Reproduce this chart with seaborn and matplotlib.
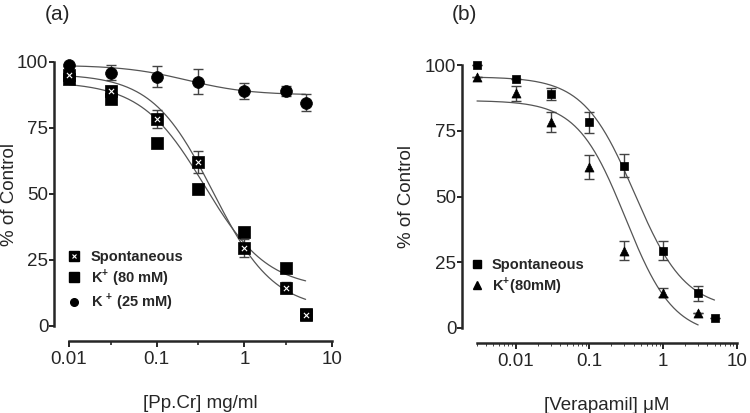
import numpy as np
import pandas as pd
import matplotlib
matplotlib.use("Agg")
import matplotlib.pyplot as plt
from matplotlib.lines import Line2D
from matplotlib.legend_handler import HandlerTuple
import seaborn as sns

# ---- panel (a) data: [Pp.Cr] mg/ml ----
conc_a = [0.01, 0.03, 0.1, 0.3, 1, 3, 5]
spont_a = [95, 89, 78.5, 62, 29.5, 14.5, 4]
spont_a_err = [1, 2, 3.5, 4.2, 3.5, 2, 0.5]
k80_a = [93.5, 86, 69.5, 52, 35.5, 22, 4.5]
k80_a_err = [1, 1, 0.5, 1.8, 1, 1, 0.5]
k25_a = [99, 96, 94.5, 92.5, 89, 89, 84.5]
k25_a_err = [0.5, 3, 4, 4.7, 3, 2, 3.2]

# ---- panel (b) data: [Verapamil] uM ----
conc_b_spont = [0.003, 0.01, 0.03, 0.1, 0.3, 1, 3, 5]
spont_b = [100, 94.7, 89, 78.3, 61.7, 29.4, 13.2, 3.7]
spont_b_err = [0, 0, 2.4, 4, 4.3, 3.5, 2.8, 0]
conc_b_k80 = [0.003, 0.01, 0.03, 0.1, 0.3, 1, 3]
k80_b = [95.3, 89.2, 78.2, 61.3, 29.4, 13.4, 5.6]
k80_b_err = [0, 2.8, 3.8, 4.5, 3.5, 1.8, 0]

# fitted sigmoid parameters (top, bottom, EC50, hill) and fit x-range
fit_spont_a = (95.5, 6, 0.44, 1.25)
fit_k80_a = (92.5, 14, 0.35, 1.2)
fit_k25_a = (98.8, 87.5, 0.22, 1.2)
fit_range_a = (0.01, 5)
fit_spont_b = (95.5, 7, 0.41, 1.26)
fit_k80_b = (86.5, -3, 0.31, 1.33)
fit_range_spont_b = (0.003, 5)
fit_range_k80_b = (0.003, 3)


def hill(x, top, bottom, ec50, n):
    return bottom + (top - bottom) / (1 + (x / ec50) ** n)


def fit_curve(params, xr):
    x = np.geomspace(xr[0], xr[1], 200)
    return pd.DataFrame({"x": x, "y": hill(x, *params)})


sns.set_style("ticks")
plt.rcParams["font.family"] = ["Liberation Sans", "DejaVu Sans"]
plt.rcParams["mathtext.fontset"] = "custom"
plt.rcParams["mathtext.rm"] = "Liberation Sans"
plt.rcParams["mathtext.bf"] = "Liberation Sans:bold"

W, H = 750, 413
fig = plt.figure(figsize=(7.5, 4.13), dpi=100)
ax_a = fig.add_axes([69 / W, 87 / H, 263 / W, 264 / H])
ax_b = fig.add_axes([477 / W, 85 / H, 259.7 / W, 263 / H])

curve_col = "#555555"
err_col = "#444444"


def draw_series(ax, x, y, err, marker, ms, fill_x=False):
    ax.errorbar(x, y, yerr=err, fmt="none", ecolor=err_col, elinewidth=1,
                capsize=3.6, capthick=1, clip_on=False, zorder=3)
    df = pd.DataFrame({"x": x, "y": y})
    sns.scatterplot(data=df, x="x", y="y", marker=marker, s=ms ** 2,
                    color="black", edgecolor="black", linewidth=0.5,
                    ax=ax, clip_on=False, zorder=4, legend=False)
    if fill_x:
        sns.scatterplot(data=df, x="x", y="y", marker="x", s=(ms * 0.45) ** 2,
                        color="white", linewidth=0.8, ax=ax, clip_on=False,
                        zorder=5, legend=False)


def style_axes(ax, xlo, label_x):
    ax.set_xscale("log")
    ax.set_xlim(xlo, 10)
    ax.set_ylim(0, 100)
    ax.set_yticks([0, 25, 50, 75, 100])
    ax.set_yticklabels(["0", "25", "50", "75", "100"])
    ax.set_xticks([0.01, 0.1, 1, 10])
    ax.set_xticklabels(["0.01", "0.1", "1", "10"])
    ax.spines["top"].set_visible(False)
    ax.spines["right"].set_visible(False)
    ax.spines["left"].set_position(("outward", 10.5))
    ax.spines["bottom"].set_position(("outward", 10.8))
    for s in ("left", "bottom"):
        ax.spines[s].set_linewidth(1.8)
    ax.tick_params(axis="y", which="major", length=3.6, width=1.4,
                   labelsize=13.5, direction="out", pad=0.8)
    ax.tick_params(axis="x", which="major", length=4, width=1.4,
                   labelsize=13.5, direction="out", pad=3)
    ax.set_ylabel("% of Control", fontsize=13.5)
    pos = ax.get_position()
    ax.yaxis.set_label_coords(label_x / W, pos.y0 + pos.height / 2,
                              transform=fig.transFigure)


# ---- panel (a) ----
for params in (fit_spont_a, fit_k80_a, fit_k25_a):
    sns.lineplot(data=fit_curve(params, fit_range_a), x="x", y="y",
                 color=curve_col, linewidth=0.9, ax=ax_a, clip_on=False)
draw_series(ax_a, conc_a, k25_a, k25_a_err, "o", 8.5)
draw_series(ax_a, conc_a, k80_a, k80_a_err, "s", 8)
draw_series(ax_a, conc_a, spont_a, spont_a_err, "s", 8.3, fill_x=True)
style_axes(ax_a, 0.01, 18)
ax_a.set_xticks([0.03, 0.3, 3], minor=True)
ax_a.set_xticklabels([], minor=True)
ax_a.tick_params(axis="x", which="minor", length=3, width=1.2)
ax_a.set_xlabel("[Pp.Cr] mg/ml", fontsize=13.5, labelpad=20)

sq = Line2D([], [], marker="s", color="black", ls="none", ms=7.5)
sq_x = Line2D([], [], marker="x", color="white", ls="none", ms=3.3, mew=0.8)
sq2 = Line2D([], [], marker="s", color="black", ls="none", ms=7.5)
dot = Line2D([], [], marker="o", color="black", ls="none", ms=5.5)
ax_a.legend([(sq, sq_x), sq2, dot],
            ["Spontaneous", "K$^{\\mathbf{+}}$ (80 mM)", "K $^{\\mathbf{+}}$ (25 mM)"],
            handler_map={tuple: HandlerTuple(ndivide=1)},
            frameon=False, loc="upper left",
            bbox_to_anchor=(65.5 / W, 1 - 250 / H),
            bbox_transform=fig.transFigure, borderaxespad=0, borderpad=0,
            handletextpad=0.55, labelspacing=0.22, handlelength=1.2,
            prop={"weight": "bold", "size": 10.5})

# ---- panel (b) ----
sns.lineplot(data=fit_curve(fit_spont_b, fit_range_spont_b), x="x", y="y",
             color=curve_col, linewidth=0.9, ax=ax_b, clip_on=False)
sns.lineplot(data=fit_curve(fit_k80_b, fit_range_k80_b), x="x", y="y",
             color=curve_col, linewidth=0.9, ax=ax_b, clip_on=False)
draw_series(ax_b, conc_b_spont, spont_b, spont_b_err, "s", 5.5)
draw_series(ax_b, conc_b_k80, k80_b, k80_b_err, "^", 6.5)
style_axes(ax_b, 0.003, 415)
ax_b.set_xlabel("[Verapamil] μM", fontsize=13.5, labelpad=20)

sq_b = Line2D([], [], marker="s", color="black", ls="none", ms=5.5)
tri_b = Line2D([], [], marker="^", color="black", ls="none", ms=6)
ax_b.legend([sq_b, tri_b], ["Spontaneous", "K$^{\\mathbf{+}}$(80mM)"],
            frameon=False, loc="upper left",
            bbox_to_anchor=(469.4 / W, 1 - 258 / H),
            bbox_transform=fig.transFigure, borderaxespad=0, borderpad=0,
            handletextpad=0.53, labelspacing=0.2, handlelength=1.0,
            prop={"weight": "bold", "size": 10.5})

fig.text(45 / W, 1 - 20 / H, "(a)", fontsize=15, va="baseline")
fig.text(452 / W, 1 - 20 / H, "(b)", fontsize=15, va="baseline")

fig.savefig("out.png", dpi=100)
